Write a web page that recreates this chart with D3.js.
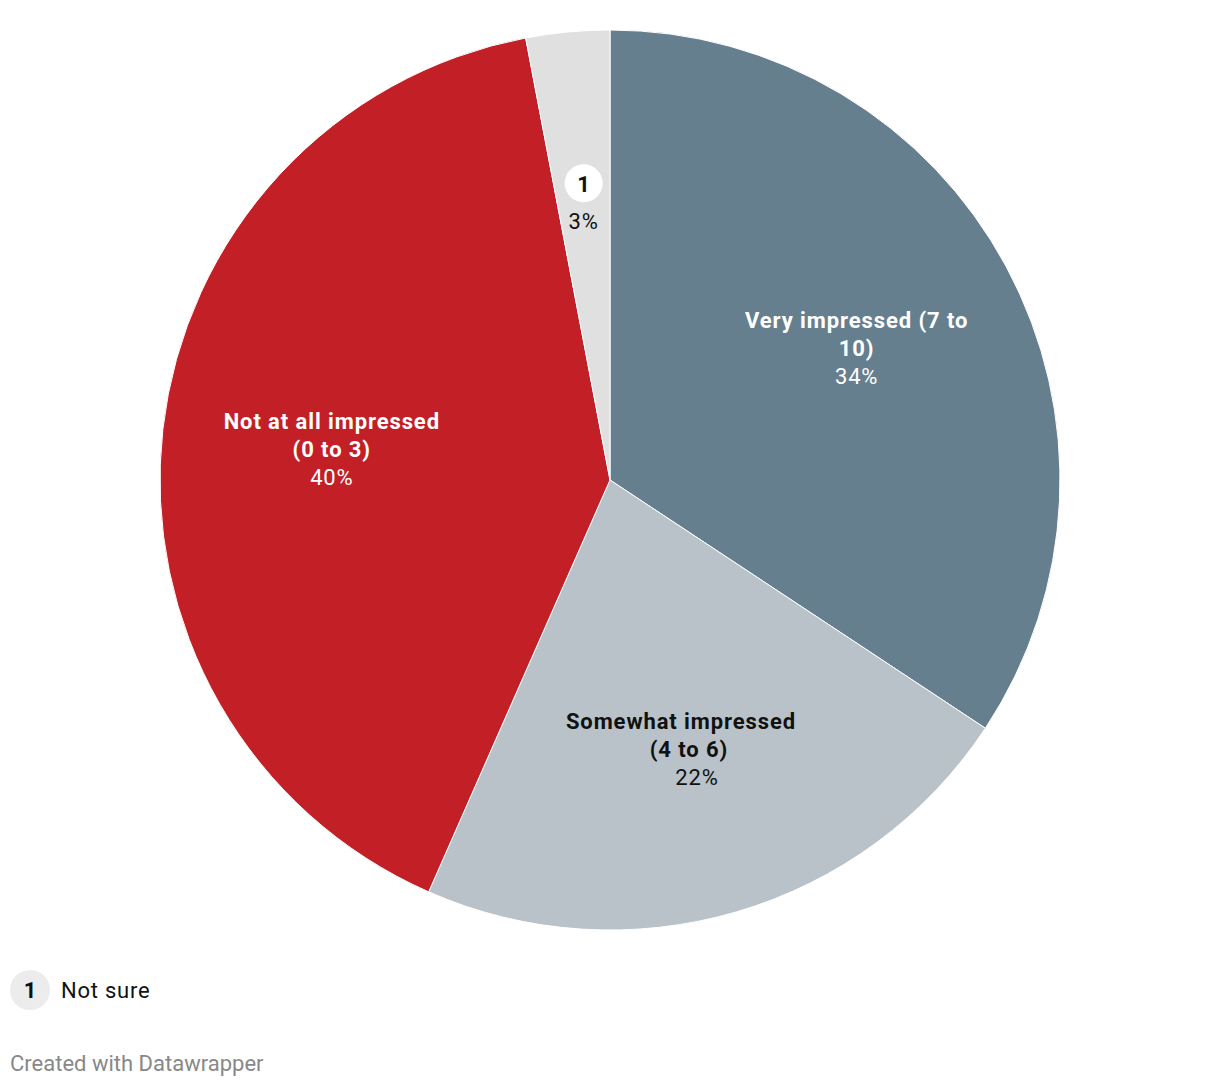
<!DOCTYPE html>
<html><head><meta charset="utf-8">
<script src="https://cdn.jsdelivr.net/npm/d3@7"></script>
<style>
body{margin:0;background:#fff;font-family:Roboto,sans-serif;}
</style></head>
<body>
<svg id="chart" width="1220" height="1086"></svg>
<script>
const categories = ["Very impressed (7 to 10)", "Somewhat impressed (4 to 6)", "Not at all impressed (0 to 3)", "Not sure"];
const labelLines = [["Very impressed (7 to", "10)"], ["Somewhat impressed", "(4 to 6)"], ["Not at all impressed", "(0 to 3)"], []];
const values = [34.3, 22.3, 40.4, 3.0];
const valueLabels = ["34%", "22%", "40%", "3%"];
const colors = ["#667f8f", "#b8c2c8", "#c31f26", "#e0e0e0"];
const textColors = ["#fff", "#111", "#fff", "#111"];

const svg = d3.select("#chart");
const cx = 610, cy = 480, R = 450, labelR = 280;
const data = categories.map((c, i) => ({c, i, v: values[i]}));
const pie = d3.pie().value(d => d.v).sort(null);
const arcs = pie(data);
const arc = d3.arc().innerRadius(0).outerRadius(R);
const labelArc = d3.arc().innerRadius(labelR).outerRadius(labelR);

const g = svg.append("g").attr("transform", `translate(${cx},${cy})`);
g.selectAll("path").data(arcs).join("path")
  .attr("d", arc)
  .attr("fill", d => colors[d.data.i])
  .attr("stroke", "#fff").attr("stroke-width", 1);

const lineH = 28;
const lineDx = [[0, 0, 0], [-8, 0, 8], [0, 0, 0]];
arcs.forEach(a => {
  const i = a.data.i;
  const [x, y] = labelArc.centroid(a);
  const lg = g.append("g").attr("transform", `translate(${x},${y})`);
  if (labelLines[i].length) {
    const lines = labelLines[i];
    const n = lines.length + 1;
    const y0 = -(n - 1) / 2 * lineH;
    lines.forEach((t, k) => {
      lg.append("text").attr("x", lineDx[i][k]).attr("y", y0 + k * lineH + 1)
        .attr("dy", "0.35em").attr("text-anchor", "middle")
        .attr("font-size", 22).attr("font-weight", 700).attr("letter-spacing", "0.9px")
        .attr("fill", textColors[i]).text(t);
    });
    lg.append("text").attr("x", lineDx[i][lines.length]).attr("y", y0 + lines.length * lineH + 1)
      .attr("dy", "0.35em").attr("text-anchor", "middle")
      .attr("font-size", 22).attr("letter-spacing", "0.8px")
      .attr("fill", textColors[i]).text(valueLabels[i]);
  } else {
    lg.append("circle").attr("cx", 0).attr("cy", -18).attr("r", 19).attr("fill", "#fff");
    lg.append("text").attr("x", 0).attr("y", -17).attr("dy", "0.35em")
      .attr("text-anchor", "middle").attr("font-size", 22).attr("font-weight", 700)
      .attr("fill", "#111").text("1");
    lg.append("text").attr("x", 0).attr("y", 20).attr("dy", "0.35em")
      .attr("text-anchor", "middle").attr("font-size", 22).attr("letter-spacing", "0.8px")
      .attr("fill", "#111").text(valueLabels[i]);
  }
});

// legend
const leg = svg.append("g").attr("transform", "translate(30,990)");
leg.append("circle").attr("r", 20).attr("fill", "#ececec");
leg.append("text").attr("dy", "0.35em").attr("text-anchor", "middle")
  .attr("font-size", 22).attr("font-weight", 700).attr("fill", "#111").text("1");
leg.append("text").attr("x", 31).attr("dy", "0.35em")
  .attr("font-size", 22).attr("letter-spacing", "0.75px").attr("fill", "#111").text(categories[3]);

svg.append("text").attr("x", 10).attr("y", 1063).attr("dy", "0.35em")
  .attr("font-size", 22).attr("fill", "#888").text("Created with Datawrapper");
</script>
</body></html>
